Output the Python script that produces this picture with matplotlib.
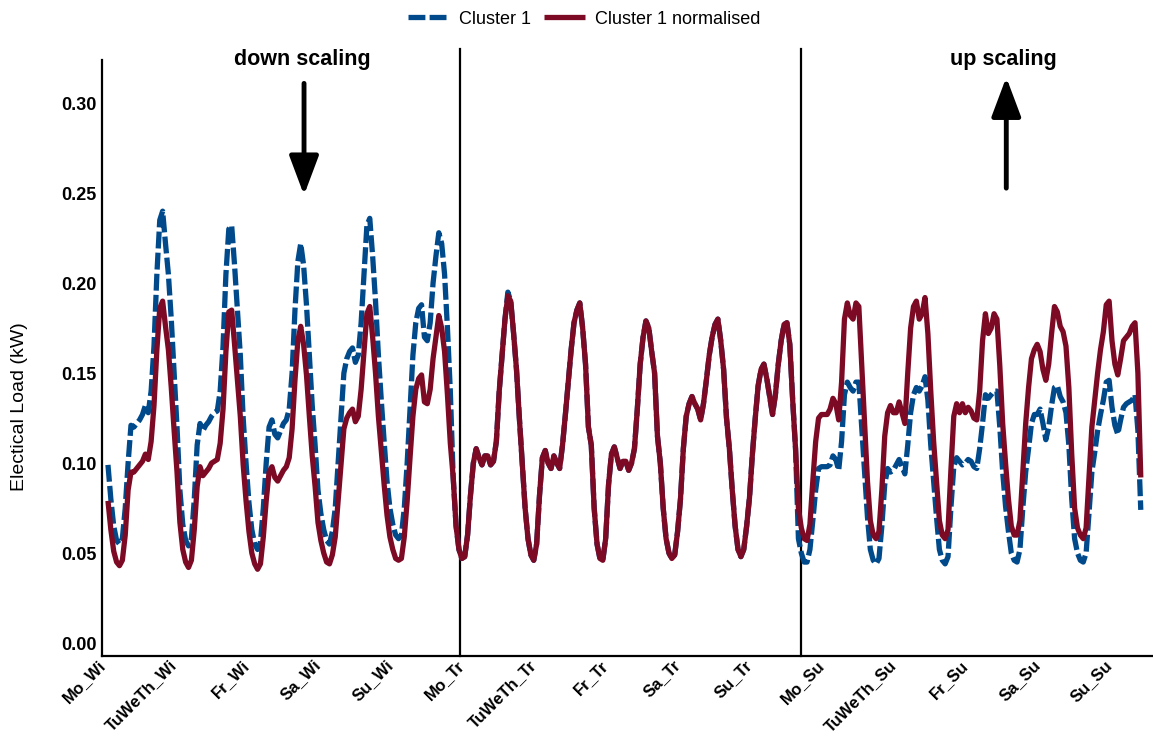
import numpy as np
import matplotlib
matplotlib.use("Agg")
import matplotlib.pyplot as plt

# ---------------- data (hourly values) ----------------
day_labels = ["Mo_Wi", "TuWeTh_Wi", "Fr_Wi", "Sa_Wi", "Su_Wi",
              "Mo_Tr", "TuWeTh_Tr", "Fr_Tr", "Sa_Tr", "Su_Tr",
              "Mo_Su", "TuWeTh_Su", "Fr_Su", "Sa_Su", "Su_Su"]

cluster1_winter = [
    [0.099, 0.080, 0.065, 0.057, 0.055, 0.058, 0.075, 0.100, 0.121, 0.120, 0.122, 0.124,
     0.127, 0.132, 0.128, 0.140, 0.165, 0.205, 0.235, 0.240, 0.222, 0.205, 0.180, 0.150],
    [0.120, 0.085, 0.066, 0.057, 0.054, 0.058, 0.080, 0.110, 0.122, 0.118, 0.121, 0.123,
     0.126, 0.128, 0.129, 0.140, 0.165, 0.205, 0.230, 0.232, 0.210, 0.185, 0.160, 0.125],
    [0.100, 0.078, 0.063, 0.055, 0.052, 0.056, 0.075, 0.100, 0.120, 0.124, 0.116, 0.114,
     0.118, 0.122, 0.124, 0.130, 0.150, 0.185, 0.212, 0.222, 0.210, 0.188, 0.160, 0.132],
    [0.110, 0.085, 0.072, 0.063, 0.057, 0.055, 0.062, 0.075, 0.100, 0.125, 0.150, 0.158,
     0.162, 0.164, 0.156, 0.160, 0.178, 0.205, 0.232, 0.236, 0.215, 0.190, 0.160, 0.135],
    [0.112, 0.090, 0.075, 0.066, 0.060, 0.058, 0.060, 0.075, 0.100, 0.130, 0.160, 0.178,
     0.186, 0.188, 0.170, 0.168, 0.178, 0.200, 0.215, 0.228, 0.222, 0.205, 0.175, 0.140],
]
cluster1_norm_winter = [
    [0.079, 0.063, 0.051, 0.045, 0.043, 0.046, 0.060, 0.085, 0.095, 0.095, 0.097, 0.099,
     0.101, 0.105, 0.102, 0.112, 0.132, 0.163, 0.186, 0.190, 0.176, 0.163, 0.142, 0.118],
    [0.095, 0.067, 0.052, 0.045, 0.042, 0.046, 0.063, 0.087, 0.098, 0.093, 0.095, 0.097,
     0.100, 0.101, 0.102, 0.111, 0.130, 0.162, 0.184, 0.185, 0.166, 0.146, 0.126, 0.099],
    [0.079, 0.062, 0.050, 0.044, 0.041, 0.044, 0.059, 0.079, 0.095, 0.098, 0.092, 0.090,
     0.093, 0.096, 0.098, 0.103, 0.119, 0.146, 0.168, 0.176, 0.166, 0.149, 0.126, 0.104],
    [0.087, 0.067, 0.057, 0.050, 0.045, 0.044, 0.049, 0.059, 0.079, 0.099, 0.119, 0.125,
     0.128, 0.130, 0.123, 0.126, 0.141, 0.162, 0.183, 0.187, 0.170, 0.150, 0.126, 0.107],
    [0.088, 0.071, 0.059, 0.052, 0.047, 0.046, 0.047, 0.059, 0.079, 0.103, 0.126, 0.141,
     0.147, 0.149, 0.134, 0.133, 0.141, 0.158, 0.170, 0.182, 0.175, 0.162, 0.138, 0.111],
]

cluster1_transition = [
    [0.092, 0.065, 0.052, 0.047, 0.048, 0.060, 0.082, 0.100, 0.108, 0.103, 0.099, 0.104,
     0.104, 0.099, 0.101, 0.112, 0.140, 0.160, 0.180, 0.195, 0.190, 0.172, 0.152, 0.125],
    [0.100, 0.075, 0.058, 0.049, 0.046, 0.055, 0.082, 0.103, 0.107, 0.100, 0.097, 0.104,
     0.100, 0.097, 0.110, 0.127, 0.145, 0.163, 0.178, 0.185, 0.189, 0.175, 0.155, 0.120],
    [0.110, 0.075, 0.055, 0.047, 0.046, 0.058, 0.088, 0.105, 0.109, 0.103, 0.097, 0.101,
     0.101, 0.096, 0.100, 0.108, 0.130, 0.155, 0.170, 0.179, 0.175, 0.162, 0.150, 0.115],
    [0.100, 0.075, 0.058, 0.050, 0.047, 0.049, 0.062, 0.080, 0.108, 0.126, 0.133, 0.137,
     0.133, 0.130, 0.124, 0.133, 0.146, 0.160, 0.170, 0.177, 0.180, 0.168, 0.152, 0.125],
    [0.108, 0.085, 0.065, 0.052, 0.048, 0.052, 0.065, 0.081, 0.105, 0.125, 0.143, 0.152,
     0.155, 0.147, 0.137, 0.127, 0.138, 0.155, 0.168, 0.177, 0.178, 0.166, 0.135, 0.108],
]
# in the transition season both curves coincide on the chart
cluster1_norm_transition = [
    [0.092, 0.065, 0.052, 0.047, 0.048, 0.060, 0.082, 0.100, 0.108, 0.103, 0.099, 0.104,
     0.104, 0.099, 0.101, 0.112, 0.140, 0.160, 0.180, 0.193, 0.190, 0.172, 0.152, 0.125],
    [0.100, 0.075, 0.058, 0.049, 0.046, 0.055, 0.082, 0.103, 0.107, 0.100, 0.097, 0.104,
     0.100, 0.097, 0.110, 0.127, 0.145, 0.163, 0.178, 0.185, 0.189, 0.175, 0.155, 0.120],
    [0.110, 0.075, 0.055, 0.047, 0.046, 0.058, 0.088, 0.105, 0.109, 0.103, 0.097, 0.101,
     0.101, 0.096, 0.100, 0.108, 0.130, 0.155, 0.170, 0.179, 0.175, 0.162, 0.150, 0.115],
    [0.100, 0.075, 0.058, 0.050, 0.047, 0.049, 0.062, 0.080, 0.108, 0.126, 0.133, 0.137,
     0.133, 0.130, 0.124, 0.133, 0.146, 0.160, 0.170, 0.177, 0.180, 0.168, 0.152, 0.125],
    [0.108, 0.085, 0.065, 0.052, 0.048, 0.052, 0.065, 0.081, 0.105, 0.125, 0.143, 0.152,
     0.155, 0.147, 0.137, 0.127, 0.138, 0.155, 0.168, 0.177, 0.178, 0.166, 0.135, 0.108],
]

cluster1_summer = [
    [0.058, 0.050, 0.045, 0.045, 0.052, 0.068, 0.085, 0.097, 0.098, 0.098, 0.098, 0.099,
     0.104, 0.102, 0.096, 0.112, 0.138, 0.145, 0.142, 0.140, 0.145, 0.145, 0.120, 0.095],
    [0.070, 0.052, 0.046, 0.044, 0.047, 0.065, 0.088, 0.097, 0.095, 0.096, 0.099, 0.102,
     0.098, 0.094, 0.110, 0.128, 0.138, 0.142, 0.140, 0.143, 0.148, 0.135, 0.110, 0.090],
    [0.070, 0.052, 0.046, 0.044, 0.048, 0.075, 0.098, 0.103, 0.101, 0.099, 0.100, 0.102,
     0.101, 0.098, 0.097, 0.108, 0.122, 0.138, 0.136, 0.138, 0.140, 0.140, 0.120, 0.095],
    [0.076, 0.062, 0.050, 0.046, 0.045, 0.052, 0.075, 0.095, 0.108, 0.122, 0.127, 0.127,
     0.130, 0.122, 0.113, 0.120, 0.132, 0.142, 0.143, 0.137, 0.134, 0.128, 0.110, 0.080],
    [0.058, 0.050, 0.046, 0.045, 0.050, 0.072, 0.095, 0.106, 0.118, 0.127, 0.135, 0.145,
     0.146, 0.131, 0.121, 0.116, 0.124, 0.131, 0.133, 0.134, 0.135, 0.138, 0.118, 0.074],
]
cluster1_norm_summer = [
    [0.075, 0.064, 0.058, 0.057, 0.066, 0.090, 0.112, 0.125, 0.127, 0.127, 0.127, 0.130,
     0.136, 0.133, 0.124, 0.145, 0.180, 0.189, 0.182, 0.180, 0.189, 0.187, 0.155, 0.122],
    [0.090, 0.068, 0.060, 0.058, 0.062, 0.085, 0.115, 0.128, 0.132, 0.128, 0.128, 0.134,
     0.128, 0.122, 0.150, 0.175, 0.187, 0.190, 0.180, 0.183, 0.192, 0.172, 0.140, 0.112],
    [0.090, 0.068, 0.060, 0.058, 0.063, 0.096, 0.126, 0.133, 0.128, 0.133, 0.128, 0.131,
     0.129, 0.125, 0.124, 0.140, 0.168, 0.183, 0.172, 0.175, 0.183, 0.180, 0.154, 0.122],
    [0.100, 0.080, 0.065, 0.060, 0.060, 0.068, 0.095, 0.122, 0.142, 0.158, 0.163, 0.166,
     0.162, 0.152, 0.146, 0.155, 0.172, 0.187, 0.184, 0.176, 0.173, 0.165, 0.142, 0.105],
    [0.075, 0.064, 0.060, 0.058, 0.064, 0.092, 0.120, 0.135, 0.150, 0.163, 0.173, 0.188,
     0.190, 0.168, 0.155, 0.149, 0.158, 0.168, 0.170, 0.172, 0.176, 0.178, 0.150, 0.092],
]

series_names = ["Cluster 1", "Cluster 1 normalised"]
annotation_texts = ["down scaling", "up scaling"]
y_ticks = [0.00, 0.05, 0.10, 0.15, 0.20, 0.25, 0.30]

# ---------------- assemble ----------------
blue = np.concatenate([np.ravel(cluster1_winter), np.ravel(cluster1_transition),
                       np.ravel(cluster1_summer)])
red = np.concatenate([np.ravel(cluster1_norm_winter), np.ravel(cluster1_norm_transition),
                      np.ravel(cluster1_norm_summer)])
steps_per_hour = 4          # x axis counted in quarter hours
x = np.arange(blue.size) * steps_per_hour
tick_pos = np.arange(len(day_labels)) * 100

BLUE = "#004a8c"
RED = "#7d0a25"
FONT = ["Liberation Sans", "DejaVu Sans"]
plt.rcParams["font.family"] = FONT

W, H = 1153, 738
fig = plt.figure(figsize=(W / 100, H / 100), dpi=100)
ax = fig.add_axes([102 / W, 1 - 656 / H, 1 - 102 / W, (656 - 60) / H])

ax.plot(x, blue, color=BLUE, lw=3.8, linestyle=(0, (3.2, 0.8)),
        dash_capstyle="butt", label=series_names[0], zorder=3)
ax.plot(x, red, color=RED, lw=3.8, solid_capstyle="butt",
        label=series_names[1], zorder=4)

ax.set_xlim(-8.3, 1453)
ax.set_ylim(-0.0072, 0.324)
ylo = ax.get_ylim()[0]

for xv in (489, 964):
    ax.plot([xv, xv], [ylo, 0.330], color="black", lw=1.6, clip_on=False, zorder=2)

ax.set_xticks(tick_pos)
ax.set_xticklabels(day_labels, rotation=45, ha="right", fontsize=12,
                   fontweight="bold")
ax.set_yticks(y_ticks)
ax.set_yticklabels([f"{v:.2f}" for v in y_ticks], fontsize=13, fontweight="bold")
ax.tick_params(axis="y", length=0, pad=4)
ax.tick_params(axis="x", length=0, pad=1)

for side in ("top", "right"):
    ax.spines[side].set_visible(False)
for side in ("left", "bottom"):
    ax.spines[side].set_linewidth(1.6)
    ax.spines[side].set_color("black")

fig.text(20 / W, 1 - 407 / H, "Electical Load (kW)", rotation=90,
         ha="center", va="center", fontsize=14)

# annotations
ax.text(270, 0.324, annotation_texts[0], ha="center", va="center",
        fontsize=15.5, fontweight="bold")
ax.text(1245, 0.324, annotation_texts[1], ha="center", va="center",
        fontsize=15.5, fontweight="bold")
arrow_kw = dict(arrowstyle="-|>,head_length=0.8,head_width=0.3", lw=3.5,
                color="black", shrinkA=0, shrinkB=0, mutation_scale=30)
ax.annotate("", xy=(272.6, 0.2489), xytext=(272.6, 0.311), arrowprops=arrow_kw)
ax.annotate("", xy=(1249, 0.3144), xytext=(1249, 0.2528), arrowprops=arrow_kw)

fig.legend(loc="center", bbox_to_anchor=(584 / W, 1 - 19 / H), ncol=2,
           frameon=False, fontsize=13, handlelength=2.3, handletextpad=0.55,
           columnspacing=0.7)

fig.savefig("out.png", dpi=100)
